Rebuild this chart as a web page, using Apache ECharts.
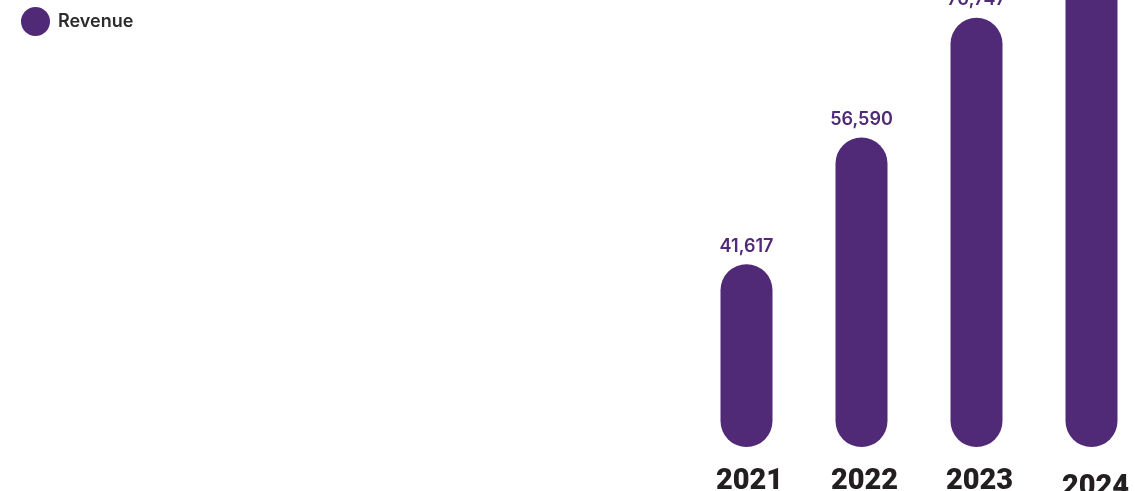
<!DOCTYPE html>
<html>
<head>
<meta charset="utf-8">
<script src="https://cdn.jsdelivr.net/npm/echarts@6/dist/echarts.min.js"></script>
<style>
html,body{margin:0;padding:0;background:#fff;}
#chart{width:1135px;height:491px;}
</style>
</head>
<body>
<div id="chart"></div>
<script>
const categories = ['2021', '2022', '2023', '2024'];
const revenue = [41617, 56590, 70747, 80000];
const seriesName = 'Revenue';

const purple = '#502a76';
const chart = echarts.init(document.getElementById('chart'), null, {renderer: 'canvas'});
chart.setOption({
  animation: false,
  backgroundColor: '#ffffff',
  legend: {
    data: [seriesName],
    left: 16, top: 2,
    icon: 'circle',
    itemWidth: 29, itemHeight: 29,
    textStyle: {fontFamily: 'Inter', fontSize: 18, fontWeight: 600, color: '#2b2b2b', padding: [0, 0, 0, 3]}
  },
  grid: {left: 689, width: 460, top: -145, height: 592, outerBoundsMode: 'none', containLabel: false},
  xAxis: {
    type: 'category',
    data: categories.map((c, i) => i === categories.length - 1
      ? {value: c, textStyle: {padding: [6, 0, 0, 8]}}
      : {value: c}),
    axisLine: {show: false},
    axisTick: {show: false},
    axisLabel: {fontFamily: 'Roboto', fontSize: 29, fontWeight: 900, color: '#231f20', margin: 20, padding: [0, 0, 0, 6]}
  },
  yAxis: {
    type: 'value', min: 20000, max: 90000, show: false,
    splitLine: {show: false}
  },
  series: [{
    name: seriesName,
    type: 'bar',
    data: revenue,
    barWidth: 52,
    itemStyle: {color: purple, borderRadius: 26},
    label: {
      show: true, position: 'top', distance: 9,
      fontFamily: 'Inter', fontSize: 18, fontWeight: 600, color: purple,
      formatter: p => p.value.toLocaleString('en-US')
    }
  }]
});
</script>
</body>
</html>
